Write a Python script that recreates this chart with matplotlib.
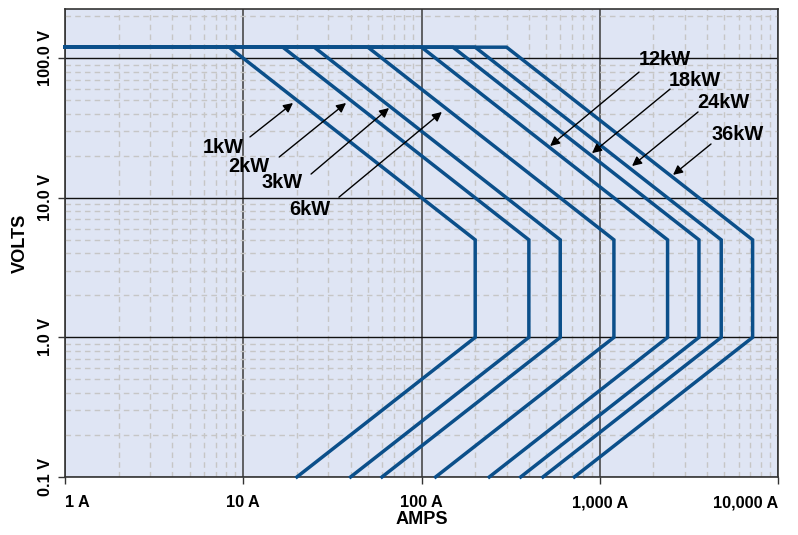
import numpy as np
import matplotlib.pyplot as plt
from matplotlib import font_manager
from matplotlib.ticker import FixedLocator, LogLocator, NullFormatter

# Model ratings (kW) and operating envelope
power_kw = [1, 2, 3, 6, 12, 18, 24, 36]
v_max = 120.0      # flat top voltage
v_knee = 5.0       # constant power ends here
v_low = 1.0        # bottom of the vertical current limit
v_min = 0.1
i_start = 1.0

# Tick labels
x_ticks = [1, 10, 100, 1000, 10000]
x_labels = ['1 A', '10 A', '100 A', '1,000 A', '10,000 A']
y_ticks = [0.1, 1, 10, 100]
y_labels = ['0.1 V', '1.0 V', '10.0 V', '100.0 V']

# Label text, label position, arrow tail, arrow head (data coords)
labels = ['1kW', '2kW', '3kW', '6kW', '12kW', '18kW', '24kW', '36kW']
text_pos = [(7.7, 23.1), (10.8, 16.9), (16.5, 12.8), (23.7, 8.3),
            (2323, 98.6), (3420, 69.8), (4913, 47.8), (5970, 28.2)]
arrow_tail = [(10.9, 27.3), (15.9, 19.6), (24.0, 14.8), (34.4, 10.1),
              (1660, 79.6), (2478, 60.1), (3557, 41.2), (4207, 24.3)]
arrow_head = [(19.0, 47.8), (37.7, 47.8), (65.7, 44.0), (130, 41.2),
              (526, 23.5), (905, 20.9), (1517, 16.9), (2576, 14.6)]

line_color = '#0b4f8a'
bg_color = '#dfe5f4'

# narrow bold font if we have it
names = set(f.name for f in font_manager.fontManager.ttflist)
if 'Liberation Sans Narrow' in names:
    fam = 'Liberation Sans Narrow'
    scale = 1.0
else:
    fam = 'Liberation Sans'
    scale = 0.9

fig = plt.figure(figsize=(7.98, 5.35), dpi=100)
ax = fig.add_axes([0.0815, 0.1085, 0.8935, 0.8745])
ax.set_facecolor(bg_color)
ax.set_xscale('log')
ax.set_yscale('log')
ax.set_xlim(1, 10000)
ax.set_ylim(0.1, 225)

# Envelope of each model
for p in power_kw:
    w = p * 1000.0
    i_max = w / v_knee
    i_pts = [i_start, w / v_max, i_max, i_max, i_max * v_min / v_low]
    v_pts = [v_max, v_max, v_knee, v_low, v_min]
    ax.plot(i_pts, v_pts, color=line_color, lw=2.5, solid_joinstyle='miter',
            zorder=3, clip_on=False)

# Grid
ax.xaxis.set_major_locator(FixedLocator(x_ticks))
ax.yaxis.set_major_locator(FixedLocator(y_ticks))
ax.xaxis.set_minor_locator(LogLocator(base=10, subs=np.arange(2, 10)))
ax.yaxis.set_minor_locator(LogLocator(base=10, subs=np.arange(2, 10)))
ax.xaxis.set_minor_formatter(NullFormatter())
ax.yaxis.set_minor_formatter(NullFormatter())
ax.grid(which='minor', color='#c6c6c6', ls=(0, (4, 3)), lw=1.0, zorder=1)
ax.grid(which='major', axis='x', color='#4a4a4a', lw=1.2, zorder=2)
ax.grid(which='major', axis='y', color='#111111', lw=1.0, zorder=2)
ax.set_axisbelow(True)

tick_fs = 13 * scale
ax.set_xticklabels(x_labels, fontsize=tick_fs, fontweight='bold', family=fam)
ax.set_yticklabels(y_labels, fontsize=tick_fs, fontweight='bold', family=fam,
                   rotation=90, va='center')
xt = ax.get_xticklabels()
xt[0].set_ha('left')
xt[-1].set_ha('right')
ax.tick_params(which='major', length=5, width=1, color='#333333', pad=4)
ax.tick_params(which='minor', length=0)
ax.tick_params(axis='x', pad=8)

for s in ax.spines.values():
    s.set_color('#333333')
    s.set_linewidth(1.2)

ax.set_xlabel('AMPS', fontsize=14.5 * scale, fontweight='bold', family=fam, labelpad=1)
ax.set_ylabel('VOLTS', fontsize=14.5 * scale, fontweight='bold', family=fam, labelpad=6)

# Labels with arrows
for lab, tp, tail, head in zip(labels, text_pos, arrow_tail, arrow_head):
    ax.text(tp[0], tp[1], lab, fontsize=16 * scale, fontweight='bold', family=fam,
            ha='center', va='center', zorder=5)
    ax.annotate('', xy=head, xytext=tail,
                arrowprops=dict(arrowstyle='-|>', color='black', lw=1.0,
                                mutation_scale=14, shrinkA=0, shrinkB=0),
                zorder=5)

fig.savefig('out.png', dpi=100, facecolor='white')
